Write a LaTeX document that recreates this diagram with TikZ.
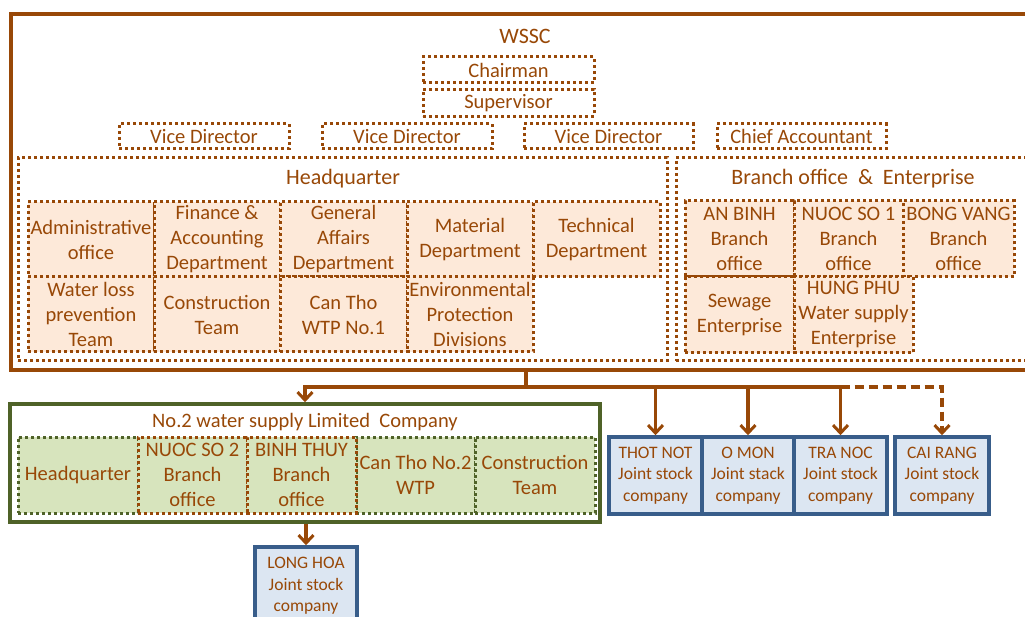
\documentclass[tikz,border=0pt]{standalone}
\usepackage{fontspec}
\setmainfont{Carlito}
\usetikzlibrary{arrows.meta}
\definecolor{brn}{HTML}{984807}
\definecolor{peach}{HTML}{FDE9D9}
\definecolor{grnfill}{HTML}{D7E4BD}
\definecolor{grnline}{HTML}{4F6228}
\definecolor{bluefill}{HTML}{DCE6F2}
\definecolor{blueline}{HTML}{385D8A}
\begin{document}
\begin{tikzpicture}[x=1pt,y=-1pt,
  txt/.style={text=brn, inner sep=0pt, align=center, font=\fontsize{20.5}{25}\selectfont},
  ttl/.style={txt, font=\fontsize{22}{26}\selectfont},
  dotted3/.style={line width=3pt, dash pattern=on 3pt off 3pt},
  dotbox/.style={txt, draw=brn, dotted3},
  unit/.style={dotbox, fill=peach},
  gunit/.style={txt, draw=grnline, fill=grnfill, dotted3},
  bunit/.style={txt, draw=brn, fill=grnfill, dotted3},
  jsc/.style={txt, draw=blueline, fill=bluefill, line width=3.5pt, font=\fontsize{17.5}{21.5}\selectfont},
  conn/.style={draw=brn, line width=3.5pt},
  arr/.style={conn, -{Straight Barb[length=8pt,width=15pt,line width=3pt]}},
  sz/.style 2 args={minimum width=#1pt, minimum height=#2pt}
]
\useasboundingbox (0,0) rectangle (1025,617);
\clip (0,0) rectangle (1025,617);

% WSSC outer
\node[draw=brn, line width=3.5pt, sz={1029}{356}] (wssc) at (525.5,192) {};
\node[ttl] (wsscT) at (525,36) {WSSC};
\node[dotbox, sz={171}{26}] (chair) at (508.5,70) {Chairman};
\node[dotbox, sz={171}{27}] (sup) at (508.5,103) {Supervisor};
\node[dotbox, sz={170}{25}] (vd1) at (204,136.5) {Vice Director};
\node[dotbox, sz={170}{25}] (vd2) at (407,136.5) {Vice Director};
\node[dotbox, sz={169}{25}] (vd3) at (608.5,136.5) {Vice Director};
\node[dotbox, sz={169}{25}] (ca) at (801.5,136.5) {Chief Accountant};

% Headquarter
\node[dotbox, sz={649}{203}] (hq) at (342.5,259.5) {};
\node[ttl] (hqT) at (343,179) {Headquarter};
\node[unit, sz={126}{75}] (adm) at (91,239.5) {Administrative\\office};
\node[unit, sz={126}{75}] (fin) at (217,239.5) {Finance \&\\Accounting\\Department};
\node[unit, sz={127}{75}] (gen) at (343.5,239.5) {General\\Affairs\\Department};
\node[unit, sz={126}{75}] (mat) at (470,239.5) {Material\\Department};
\node[unit, sz={127}{75}] (tech) at (596.5,239.5) {Technical\\Department};
\node[unit, sz={126}{75}] (wl) at (91,314.5) {Water loss\\prevention\\Team};
\node[unit, sz={126}{75}] (con) at (217,314.5) {Construction\\Team};
\node[unit, sz={127}{75}] (ct1) at (343.5,314.5) {Can Tho\\WTP No.1};
\node[unit, sz={126}{75}] (env) at (470,314.5) {Environmental\\Protection\\Divisions};

% Branch office & Enterprise
\node[dotbox, sz={359}{203}] (br) at (855.5,259.5) {};
\node[ttl] (brT) at (853,179) {Branch office \ \& \ Enterprise};
\node[unit, sz={109}{76}] (anb) at (739.5,239) {AN BINH\\Branch\\office};
\node[unit, sz={109}{76}] (ns1) at (848.5,239) {NUOC SO 1\\Branch\\office};
\node[unit, sz={111}{76}] (bv) at (958.5,239) {BONG VANG\\Branch\\office};
\node[unit, sz={109}{76}] (sew) at (739.5,315) {Sewage\\Enterprise};
\node[unit, sz={119}{76}] (hp) at (853.5,315) {HUNG PHU\\Water supply\\Enterprise};

% No.2 water supply
\node[draw=grnline, line width=3.5pt, sz={590}{118}] (no2) at (305,463) {};
\node[txt] (no2T) at (305,422) {No.2 water supply Limited \ Company};
\node[gunit, sz={120}{76}] (ghq) at (78,475) {Headquarter};
\node[gunit, sz={119}{76}] (gct) at (415.5,475) {Can Tho No.2\\WTP};
\node[gunit, sz={120}{76}] (gcon) at (535,475) {Construction\\Team};
\node[bunit, sz={109}{76}] (ns2) at (192.5,475) {NUOC SO 2\\Branch\\office};
\node[bunit, sz={109}{76}] (bt) at (301.5,475) {BINH THUY\\Branch\\office};

% Joint stock companies
\node[jsc, sz={93}{77}] (tn) at (655.5,475.5) {THOT NOT\\Joint stock\\company};
\node[jsc, sz={92}{77}] (om) at (748,475.5) {O MON\\Joint stack\\company};
\node[jsc, sz={93}{77}] (trn) at (840.5,475.5) {TRA NOC\\Joint stock\\company};
\node[jsc, sz={94}{77}] (cr) at (942,475.5) {CAI RANG\\Joint stock\\company};
\node[jsc, sz={102}{78}] (lh) at (306,586) {LONG HOA\\Joint stock\\company};

% connectors
\coordinate (j) at (526,387);
\draw[conn] (wssc.south -| j) -- (j);
\draw[arr] (j) -| (no2.north);
\draw[conn] (j) -- (trn.north |- j);
\draw[arr] (tn.north |- j) -- (tn.north);
\draw[arr] (om.north |- j) -- (om.north);
\draw[arr] (trn.north |- j) -- (trn.north);
\draw[arr, dash pattern=on 9pt off 5pt] (trn.north |- j) -| (cr.north);
\draw[arr] (no2.south -| lh.north) -- (lh.north);
\end{tikzpicture}
\end{document}
